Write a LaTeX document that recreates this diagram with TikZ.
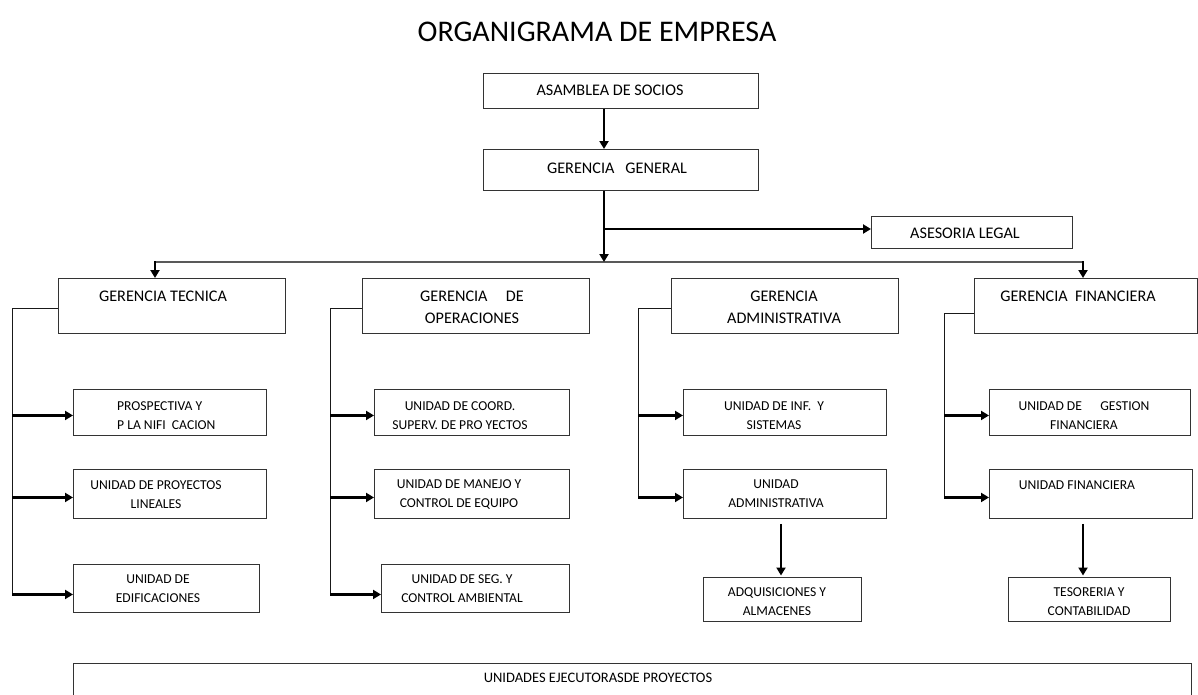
\documentclass[tikz,border=0pt]{standalone}
\usepackage{fontspec}
\setmainfont{Carlito}
\usetikzlibrary{arrows.meta,calc}
\newcommand\orgbox[5]{\node[box, minimum width={#4-#2}, minimum height={#5-#3}] (#1) at (#2,#3) {};}
\begin{document}
\begin{tikzpicture}[x=1pt,y=-1pt,
  box/.style={draw=black!80, line width=0.9pt, inner sep=0pt, anchor=north west},
  gtext/.style={font=\fontsize{16.2}{22}\selectfont, align=center, inner sep=0pt},
  stext/.style={font=\fontsize{13.6}{19}\selectfont, align=center, inner sep=0pt},
  arr/.style={line width=2.2pt, -{Triangle[length=8pt,width=9pt]}},
  conn/.style={line width=0.9pt, draw=black!90},
  busline/.style={line width=1.3pt, draw=black!65}
]
\useasboundingbox (0,0) rectangle (1198,694);

\node[font=\fontsize{30}{34}\selectfont, inner sep=0pt] (title) at (597,32) {ORGANIGRAMA DE EMPRESA};

% boxes
\orgbox{asam}{483}{73}{758}{108}
\orgbox{gg}{483}{149}{758}{190}
\orgbox{ases}{871}{216}{1072}{248}
\orgbox{gt}{58}{278}{285}{333}
\orgbox{go}{362}{278}{589}{333}
\orgbox{ga}{671}{278}{898}{333}
\orgbox{gf}{974}{278}{1197}{333}
\orgbox{p1}{73}{389}{266}{435}
\orgbox{p2}{73}{469}{266}{518}
\orgbox{p3}{73}{564}{259}{612}
\orgbox{o1}{374}{389}{569}{435}
\orgbox{o2}{374}{469}{569}{518}
\orgbox{o3}{381}{564}{569}{612}
\orgbox{a1}{683}{389}{886}{435}
\orgbox{a2}{683}{469}{886}{518}
\orgbox{a3}{703}{577}{861}{621}
\orgbox{f1}{989}{389}{1190}{435}
\orgbox{f2}{989}{469}{1192}{518}
\orgbox{f3}{1008}{577}{1170}{621}
\orgbox{bot}{73}{663}{1191}{705}

% texts
\node[gtext] (t-asam) at (610,90) {ASAMBLEA DE SOCIOS};
\node[gtext] (t-gg) at (617,168) {GERENCIA\ \ \ GENERAL};
\node[gtext] (t-ases) at (965,233) {ASESORIA LEGAL};
\node[gtext] (t-gt) at (163,296) {GERENCIA TECNICA};
\node[gtext] (t-go) at (472,307) {GERENCIA\ \ \ \ \ DE\\OPERACIONES};
\node[gtext] (t-ga) at (784,307) {GERENCIA\\ADMINISTRATIVA};
\node[gtext] (t-gf) at (1078,296) {GERENCIA\ \ FINANCIERA};

\node[stext, align=left, anchor=west] (t-p1) at (117,416) {PROSPECTIVA Y\\P LA NIFI\ \ CACION};
\node[stext] (t-p2) at (156,495) {UNIDAD DE PROYECTOS\\LINEALES};
\node[stext] (t-p3) at (158,589) {UNIDAD DE\\EDIFICACIONES};
\node[stext] (t-o1) at (460,416) {UNIDAD DE COORD.\\SUPERV. DE PRO YECTOS};
\node[stext] (t-o2) at (459,494) {UNIDAD DE MANEJO Y\\CONTROL DE EQUIPO};
\node[stext] (t-o3) at (462,589) {UNIDAD DE SEG. Y\\CONTROL AMBIENTAL};
\node[stext] (t-a1) at (774,416) {UNIDAD DE INF.\ \ Y\\SISTEMAS};
\node[stext] (t-a2) at (776,494) {UNIDAD\\ADMINISTRATIVA};
\node[stext] (t-a3) at (777,602) {ADQUISICIONES Y\\ALMACENES};
\node[stext] (t-f1) at (1084,416) {UNIDAD DE\ \ \ \ \ \ GESTION\\FINANCIERA};
\node[stext] (t-f2) at (1077,485) {UNIDAD FINANCIERA};
\node[stext] (t-f3) at (1089,602) {TESORERIA Y\\CONTABILIDAD};
\node[stext, font=\fontsize{14.5}{19}\selectfont] (t-bot) at (598,678) {UNIDADES EJECUTORASDE PROYECTOS};

% helper coordinates
\coordinate (trunk) at (604,0);
\coordinate (bus) at (0,262);
\coordinate (lb) at (0,229);
\coordinate (gtx) at (155,0);
\coordinate (gfx) at (1083,0);
\coordinate (c1) at (12,0);
\coordinate (c2) at (330,0);
\coordinate (c3) at (638,0);
\coordinate (c4) at (944,0);
\coordinate (ax) at (781,0);

% top connectors
\draw[arr] (asam.south -| trunk) -- (gg.north -| trunk);
\draw[busline] (bus -| gtx) -- (bus -| gfx);
\draw[arr] (gg.south -| trunk) -- (bus -| trunk);
\draw[arr] (lb -| trunk) -- (ases.west |- lb);
\draw[arr] ([yshift=1pt]bus -| gtx) -- (gt.north -| gtx);
\draw[arr] ([yshift=1pt]bus -| gfx) -- (gf.north -| gfx);

% column 1
\draw[conn] ([yshift=-2.5pt]gt.west) -- ([yshift=-2.5pt]gt.west -| c1) -- ([yshift=-5pt]c1 |- p3.west);
\draw[arr] ([yshift=-3pt]c1 |- p1.west) -- ([yshift=-3pt]p1.west);
\draw[arr] ([yshift=-3.5pt]c1 |- p2.west) -- ([yshift=-3.5pt]p2.west);
\draw[arr] ([yshift=-6pt]c1 |- p3.west) -- ([yshift=-6pt]p3.west);

% column 2
\draw[conn] ([yshift=-2.5pt]go.west) -- ([yshift=-2.5pt]go.west -| c2) -- ([yshift=-5pt]c2 |- o3.west);
\draw[arr] ([yshift=-3pt]c2 |- o1.west) -- ([yshift=-3pt]o1.west);
\draw[arr] ([yshift=-3.5pt]c2 |- o2.west) -- ([yshift=-3.5pt]o2.west);
\draw[arr] ([yshift=-6pt]c2 |- o3.west) -- ([yshift=-6pt]o3.west);

% column 3
\draw[conn] ([yshift=-2.5pt]ga.west) -- ([yshift=-2.5pt]ga.west -| c3) -- ([yshift=-3.5pt]c3 |- a2.west);
\draw[arr] ([yshift=-3pt]c3 |- a1.west) -- ([yshift=-3pt]a1.west);
\draw[arr] ([yshift=-3.5pt]c3 |- a2.west) -- ([yshift=-3.5pt]a2.west);
\draw[arr] ([yshift=-5pt]a2.south -| ax) -- ([yshift=1.5pt]a3.north -| ax);

% column 4
\draw[conn] ([yshift=-7.5pt]gf.west) -- ([yshift=-7.5pt]gf.west -| c4) -- ([yshift=-3.5pt]c4 |- f2.west);
\draw[arr] ([yshift=-3pt]c4 |- f1.west) -- ([yshift=-3pt]f1.west);
\draw[arr] ([yshift=-3.5pt]c4 |- f2.west) -- ([yshift=-3.5pt]f2.west);
\draw[arr] ([yshift=-5pt]f2.south -| gfx) -- ([yshift=1.5pt]f3.north -| gfx);
\end{tikzpicture}
\end{document}
